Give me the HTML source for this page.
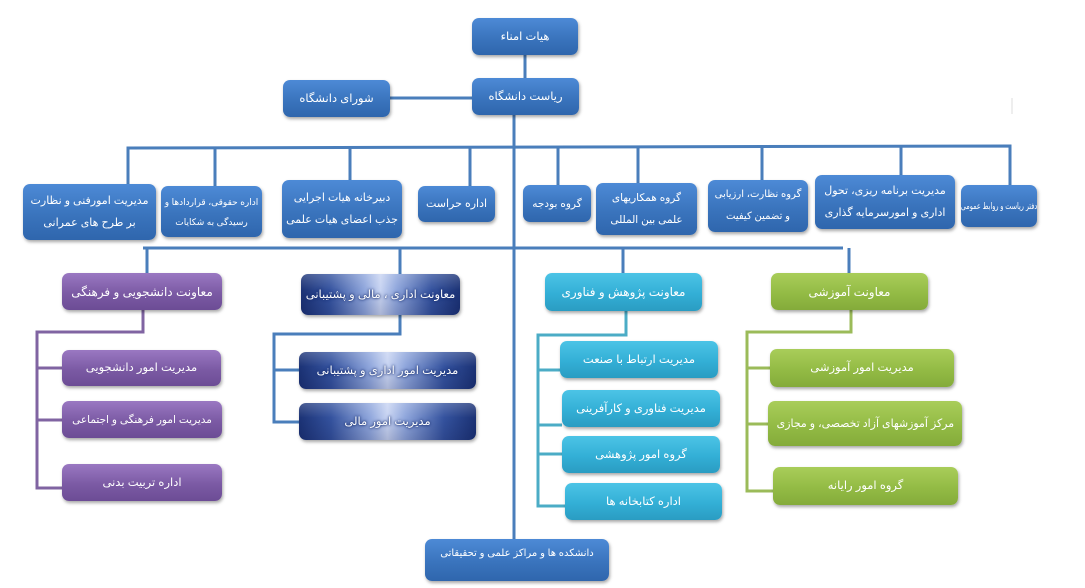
<!DOCTYPE html>
<html><head><meta charset="utf-8">
<style>
html,body{margin:0;padding:0;background:#fff;}
body{width:1085px;height:588px;position:relative;overflow:hidden;font-family:"Liberation Sans","Noto Sans CJK SC","DejaVu Sans",sans-serif;}
svg{position:absolute;left:0;top:0;}
.b{position:absolute;box-sizing:border-box;border-radius:7px;color:#fff;display:flex;align-items:center;justify-content:center;text-align:center;direction:rtl;font-size:11.5px;line-height:22px;box-shadow:1px 2px 3px rgba(0,0,0,.35);white-space:nowrap;}
.blue{background:linear-gradient(#4d8ad6,#3a74bd 55%,#2f66ad);}
.pur{background:linear-gradient(#9a78c2,#7b5aa4 55%,#6c4c95);}
.navy{background:linear-gradient(rgba(255,255,255,.2),rgba(255,255,255,0) 40%,rgba(0,0,40,.15)),linear-gradient(90deg,#1b3275 0%,#34529e 18%,#8fa6dc 40%,#c8d4f2 50%,#8fa6dc 60%,#34529e 82%,#1b3275 100%);text-shadow:0 0 3px #1b3275,0 0 2px #1b3275;}
.cyan{background:linear-gradient(#4cc4e6,#33afd6 55%,#2a9cc2);}
.grn{background:linear-gradient(#a9cd5a,#93bb45 55%,#84ab3a);}
.sq{display:inline-block;}
</style></head><body>
<svg width="1085" height="588">
<g stroke="#4a7ebb" stroke-width="3" fill="none">
<line x1="525" y1="55" x2="525" y2="78"/>
<line x1="390" y1="98" x2="472" y2="98"/>
<line x1="514" y1="115" x2="514" y2="539"/>
<polyline points="128,184 128,148 1010,146 1010,185"/>
<line x1="215" y1="148" x2="215" y2="186"/>
<line x1="350" y1="148" x2="350" y2="180"/>
<line x1="470" y1="148" x2="470" y2="186"/>
<line x1="558" y1="148" x2="558" y2="185"/>
<line x1="638" y1="148" x2="638" y2="183"/>
<line x1="762" y1="147" x2="762" y2="180"/>
<line x1="901" y1="147" x2="901" y2="175"/>
<line x1="143" y1="248" x2="843" y2="248"/>
<line x1="147" y1="248" x2="147" y2="273"/>
<line x1="400" y1="248" x2="400" y2="274"/>
<line x1="623" y1="248" x2="623" y2="273"/>
<line x1="849" y1="248" x2="849" y2="273"/>
<polyline points="400,315 400,334 274,334 274,422 299,422"/>
<line x1="274" y1="370" x2="299" y2="370"/>
</g>
<g stroke="#8064a2" stroke-width="3" fill="none">
<polyline points="143,310 143,332 37,332 37,488 62,488"/>
<line x1="37" y1="368" x2="62" y2="368"/>
<line x1="37" y1="420" x2="62" y2="420"/>
</g>
<g stroke="#4bacc6" stroke-width="3" fill="none">
<polyline points="626,311 626,335 538,335 538,506 565,506"/>
<line x1="538" y1="370" x2="560" y2="370"/>
<line x1="538" y1="425" x2="562" y2="425"/>
<line x1="538" y1="454" x2="562" y2="454"/>
</g>
<g stroke="#9bbb59" stroke-width="3" fill="none">
<polyline points="851,310 851,332 747,332 747,491 773,491"/>
<line x1="747" y1="368" x2="770" y2="368"/>
<line x1="747" y1="424" x2="768" y2="424"/>
</g>
<line x1="1012" y1="98" x2="1012" y2="114" stroke="#ddd" stroke-width="1"/>
</svg>

<div class="b blue" style="left:472px;top:18px;width:106px;height:37px">هیات امناء</div>
<div class="b blue" style="left:472px;top:78px;width:107px;height:37px">ریاست دانشگاه</div>
<div class="b blue" style="left:283px;top:80px;width:107px;height:37px">شورای دانشگاه</div>

<div class="b blue" style="left:23px;top:184px;width:133px;height:56px;font-size:11px">مدیریت امورفنی و نظارت<br>بر طرح های عمرانی</div>
<div class="b blue" style="left:161px;top:186px;width:101px;height:51px;font-size:9px;line-height:20px">اداره حقوقی، قراردادها و<br>رسیدگی به شکایات</div>
<div class="b blue" style="left:282px;top:180px;width:120px;height:58px;font-size:11px">دبیرخانه هیات اجرایی<br>جذب اعضای هیات علمی</div>
<div class="b blue" style="left:418px;top:186px;width:77px;height:36px;font-size:11px">اداره حراست</div>
<div class="b blue" style="left:523px;top:185px;width:68px;height:37px;font-size:10.5px">گروه بودجه</div>
<div class="b blue" style="left:596px;top:183px;width:101px;height:52px;font-size:10.5px">گروه همکاریهای<br>علمی بین المللی</div>
<div class="b blue" style="left:708px;top:180px;width:100px;height:52px;font-size:10px">گروه نظارت، ارزیابی<br>و تضمین کیفیت</div>
<div class="b blue" style="left:815px;top:175px;width:140px;height:54px;font-size:11px">مدیریت برنامه ریزی، تحول<br>اداری و امورسرمایه گذاری</div>
<div class="b blue" style="left:961px;top:185px;width:76px;height:42px;font-size:9px"><span class="sq" style="transform:scaleX(.72)">دفتر ریاست و روابط عمومی</span></div>

<div class="b pur" style="left:62px;top:273px;width:160px;height:37px;font-size:12px">معاونت دانشجویی و فرهنگی</div>
<div class="b pur" style="left:62px;top:350px;width:159px;height:36px">مدیریت امور دانشجویی</div>
<div class="b pur" style="left:62px;top:401px;width:160px;height:37px;font-size:10.5px">مدیریت امور فرهنگی و اجتماعی</div>
<div class="b pur" style="left:62px;top:464px;width:160px;height:37px">اداره تربیت بدنی</div>

<div class="b navy" style="left:301px;top:274px;width:159px;height:41px;font-size:11.5px">معاونت اداری ، مالی و پشتیبانی</div>
<div class="b navy" style="left:299px;top:352px;width:177px;height:37px">مدیریت امور اداری و پشتیبانی</div>
<div class="b navy" style="left:299px;top:403px;width:177px;height:37px">مدیریت امور مالی</div>

<div class="b cyan" style="left:545px;top:273px;width:157px;height:38px;font-size:12px">معاونت پژوهش و فناوری</div>
<div class="b cyan" style="left:560px;top:341px;width:158px;height:37px">مدیریت ارتباط با صنعت</div>
<div class="b cyan" style="left:562px;top:390px;width:158px;height:37px">مدیریت فناوری و کارآفرینی</div>
<div class="b cyan" style="left:562px;top:436px;width:158px;height:37px">گروه امور پژوهشی</div>
<div class="b cyan" style="left:565px;top:483px;width:157px;height:37px">اداره کتابخانه ها</div>

<div class="b grn" style="left:771px;top:273px;width:157px;height:37px;font-size:12px">معاونت آموزشی</div>
<div class="b grn" style="left:770px;top:349px;width:184px;height:38px">مدیریت امور آموزشی</div>
<div class="b grn" style="left:768px;top:401px;width:194px;height:45px;font-size:11.5px"><span class="sq" style="transform:scaleX(.95)">مرکز آموزشهای آزاد تخصصی، و مجازی</span></div>
<div class="b grn" style="left:773px;top:467px;width:185px;height:38px">گروه امور رایانه</div>

<div class="b blue" style="left:425px;top:539px;width:184px;height:42px;font-size:10px;align-items:flex-start;padding-top:4px">دانشکده ها و مراکز علمی و تحقیقاتی</div>
</body></html>
